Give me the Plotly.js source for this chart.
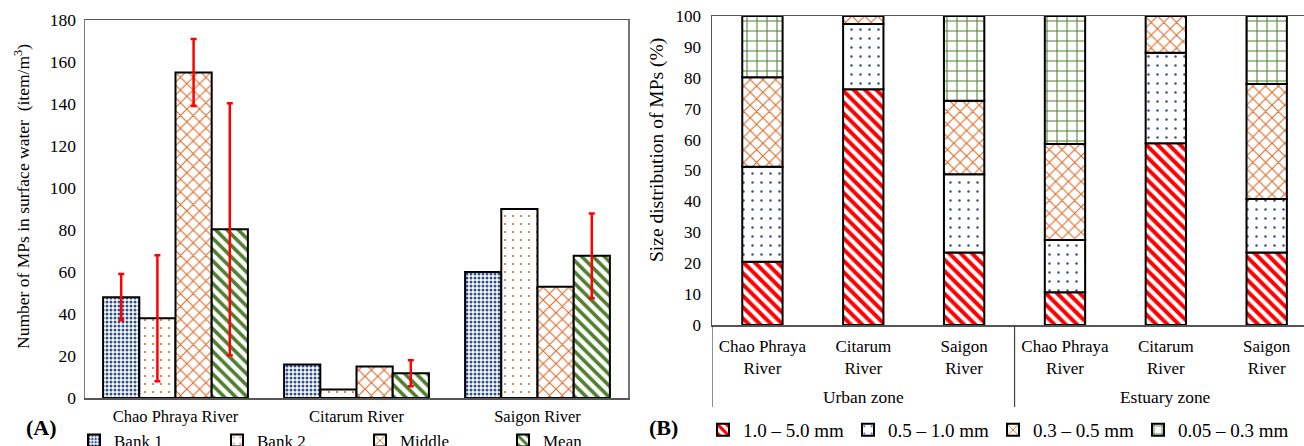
<!DOCTYPE html>
<html><head><meta charset="utf-8">
<script src="https://cdn.plot.ly/plotly-3.0.1.min.js"></script>
<style>html,body{margin:0;padding:0;background:#fff;overflow:hidden;width:1304px;height:446px}#c{width:1304px;height:446px}</style>
</head><body><div id="c"></div>
<script>
// ---- Panel A data ----
const rivers = ['Chao Phraya River', 'Citarum River', 'Saigon River'];
const bank1 = [48, 16, 60];
const bank2 = [38, 4, 90];
const middle = [155, 15, 53];
const meanVals = [80.4, 11.8, 67.7];
const bank1Err = [11, NaN, NaN];
const bank2Err = [30, NaN, NaN];
const middleErr = [16, NaN, NaN];
const meanErr = [60, 6.2, 20.2];
const seriesA = ['Bank 1', 'Bank 2', 'Middle', 'Mean'];

// ---- Panel B data ----
const bRivers = ['Chao Phraya River', 'Citarum River', 'Saigon River', 'Chao Phraya River', 'Citarum River', 'Saigon River'];
const zones = ['Urban zone', 'Estuary zone'];
const size1 = [20.5, 76.3, 23.5, 10.6, 58.8, 23.5];
const size2 = [30.7, 21.1, 25.3, 16.9, 29.3, 17.3];
const size3 = [29.0, 2.6, 23.8, 31.1, 11.9, 37.2];
const size4 = [19.8, 0, 27.4, 41.4, 0, 22.0];
const sizeNames = ['1.0 \u2013 5.0 mm', '0.5 \u2013 1.0 mm', '0.3 \u2013 0.5 mm', '0.05 \u2013 0.3 mm'];

const W = 1304, H = 446;
const FONT = 'Liberation Serif, Times New Roman, serif';
const px = v => v / W, py = v => (H - v) / H;

const NAVY = '#2f4f8f', ORANGE = '#dc6e2c', GREEN = '#4f7f2f', RED = '#ff0000';
const patA = [
  {shape: '.', fgcolor: NAVY, bgcolor: 'white', size: 4, solidity: 0.45},
  {shape: '.', fgcolor: ORANGE, bgcolor: 'white', size: 8, solidity: 0.06},
  {shape: 'x', fgcolor: ORANGE, bgcolor: 'white', size: 9, solidity: 0.24},
  {shape: '\\', fgcolor: GREEN, bgcolor: 'white', size: 8, solidity: 0.45}
];
const patB = [
  {shape: '\\', fgcolor: RED, bgcolor: 'white', size: 8, solidity: 0.5},
  {shape: '.', fgcolor: NAVY, bgcolor: 'white', size: 9, solidity: 0.06},
  {shape: 'x', fgcolor: ORANGE, bgcolor: 'white', size: 9, solidity: 0.24},
  {shape: '+', fgcolor: GREEN, bgcolor: 'white', size: 10, solidity: 0.2}
];

const valsA = [bank1, bank2, middle, meanVals];
const errsA = [bank1Err, bank2Err, middleErr, meanErr];
const traces = [];
valsA.forEach((v, i) => {
  traces.push({
    type: 'bar', name: seriesA[i], x: rivers, y: v, xaxis: 'x', yaxis: 'y', legend: 'legend',
    legendwidth: i === 3 ? 60 : 98,
    marker: {color: 'white', line: {color: 'black', width: 2}, pattern: patA[i]},
    error_y: {type: 'data', array: errsA[i], visible: true, color: RED, thickness: 2.5, width: 3}
  });
});

const valsB = [size1, size2, size3, size4];
const xB = bRivers.map((_, i) => i);
let cum = bRivers.map(() => 0);
valsB.forEach((v, i) => {
  traces.push({
    type: 'bar', name: sizeNames[i], x: xB, y: v, base: cum.slice(), xaxis: 'x2', yaxis: 'y2',
    legend: 'legend2', offsetgroup: 'b', width: 0.4, legendwidth: i === 3 ? 125 : 100,
    marker: {color: 'white', line: {color: 'black', width: 2}, pattern: patB[i]}
  });
  cum = cum.map((c, j) => c + v[j]);
});

const layout = {
  width: W, height: H, autosize: false, margin: {l: 0, r: 0, t: 0, b: 0, pad: 0, autoexpand: false},
  paper_bgcolor: 'white', plot_bgcolor: 'white',
  font: {family: FONT, size: 17, color: 'black'},
  barmode: 'group', bargap: 0.2, bargroupgap: 0,
  xaxis: {domain: [px(85), px(628)], anchor: 'y', showline: true, linecolor: '#555', linewidth: 1.5,
          mirror: true, ticks: '', tickfont: {size: 16.5}, ticklabelstandoff: 3, showgrid: false, zeroline: false},
  yaxis: {domain: [py(398), py(20)], anchor: 'x', range: [0, 180], dtick: 20, showline: true,
          linecolor: '#777', linewidth: 1.5, mirror: true, ticks: '', tickfont: {size: 17.5},
          ticklabelstandoff: 4, showgrid: false, zeroline: false},
  xaxis2: {domain: [px(712), 1], anchor: 'y2', range: [-0.5, 5.37], tickvals: xB,
           ticktext: bRivers.map(s => s.replace(' River', '<br>River')), showline: true,
           linecolor: '#555', linewidth: 1.5, mirror: true, ticks: '', tickfont: {size: 17},
           ticklabelstandoff: 5, showgrid: false, zeroline: false},
  yaxis2: {domain: [py(325), py(16)], anchor: 'x2', range: [0, 100], dtick: 10, showline: true,
           linecolor: '#555', linewidth: 1.5, mirror: true, ticks: '', tickfont: {size: 17},
           ticklabelstandoff: 6, showgrid: false, zeroline: false},
  legend: {orientation: 'h', x: px(74), xanchor: 'left', y: py(441), yanchor: 'middle',
           font: {size: 17}, bgcolor: 'rgba(0,0,0,0)', traceorder: 'normal'},
  legend2: {orientation: 'h', x: px(703), xanchor: 'left', y: py(430), yanchor: 'middle',
            font: {size: 19}, bgcolor: 'rgba(0,0,0,0)', traceorder: 'normal'},
  shapes: [
    {type: 'line', xref: 'x2', yref: 'paper', x0: -0.5, x1: -0.5, y0: py(325), y1: py(407), line: {color: '#444', width: 1.2}},
    {type: 'line', xref: 'x2', yref: 'paper', x0: 2.5, x1: 2.5, y0: py(325), y1: py(407), line: {color: '#444', width: 1.2}}
  ],
  annotations: [
    {xref: 'paper', yref: 'paper', x: px(22), y: py(197), text: 'Number of MPs in surface water\u00a0 (item/m<sup>3</sup>)',
     textangle: -90, showarrow: false, font: {size: 17.5}, xanchor: 'center', yanchor: 'middle'},
    {xref: 'paper', yref: 'paper', x: px(657), y: py(150), text: 'Size distribution of MPs (%)',
     textangle: -90, showarrow: false, font: {size: 19.5}, xanchor: 'center', yanchor: 'middle'},
    {xref: 'x2', yref: 'paper', x: 1, y: py(397), text: zones[0], showarrow: false, font: {size: 17.4}, yanchor: 'middle'},
    {xref: 'x2', yref: 'paper', x: 4, y: py(397), text: zones[1], showarrow: false, font: {size: 17.4}, yanchor: 'middle'},
    {xref: 'paper', yref: 'paper', x: px(41), y: py(427), text: '<b>(A)</b>', showarrow: false, font: {size: 22}, xanchor: 'center', yanchor: 'middle'},
    {xref: 'paper', yref: 'paper', x: px(664), y: py(427), text: '<b>(B)</b>', showarrow: false, font: {size: 22}, xanchor: 'center', yanchor: 'middle'}
  ],
  showlegend: true, hovermode: false
};

Plotly.newPlot('c', traces, layout, {staticPlot: true, displayModeBar: false, responsive: false});
</script></body></html>
